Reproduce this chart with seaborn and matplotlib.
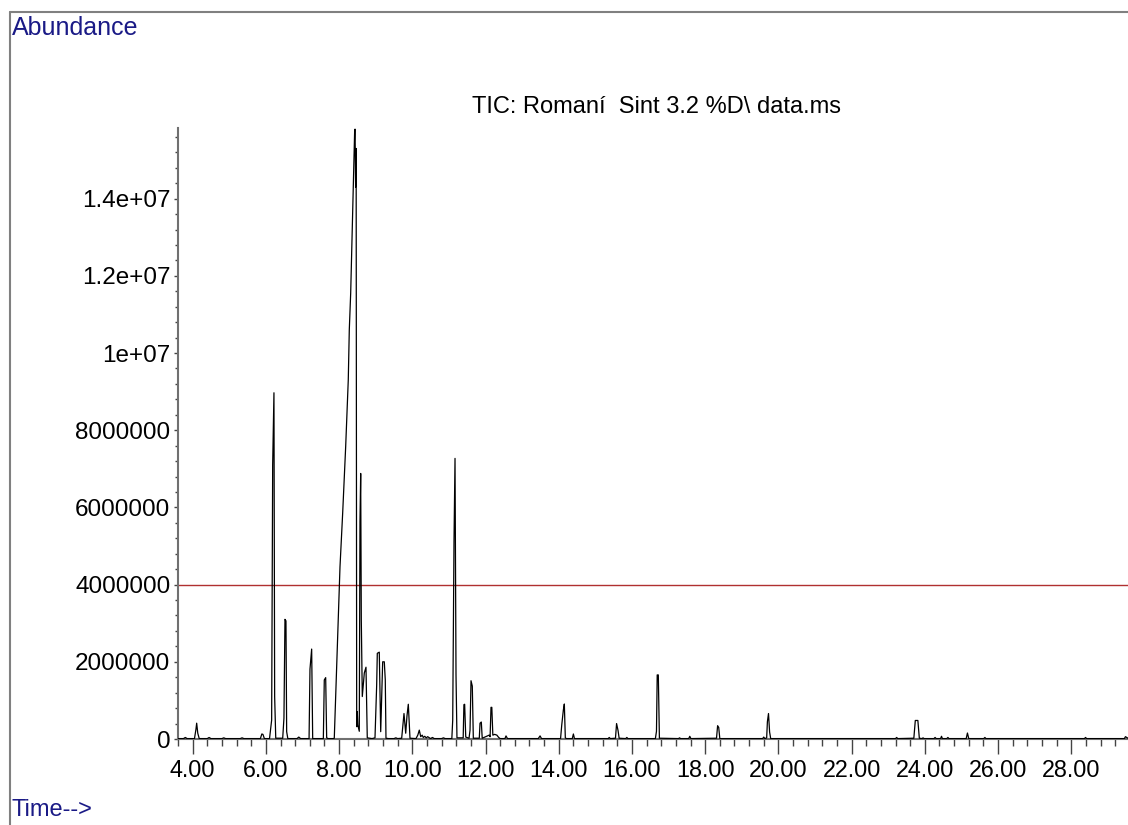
import numpy as np
import pandas as pd
import matplotlib
matplotlib.use("Agg")
import matplotlib.pyplot as plt
from matplotlib.ticker import MultipleLocator, FuncFormatter
from matplotlib.lines import Line2D
import seaborn as sns

# Total ion chromatogram, read as (retention time [min], abundance) points.
# Early region: 3.6 - 7.8 min
t_early = [3.60, 3.75, 3.80, 3.85, 4.05, 4.09, 4.11, 4.14, 4.18, 4.40, 4.45, 4.50,
           4.80, 4.85, 4.90, 5.30, 5.35, 5.40, 5.85, 5.89, 5.92, 5.96, 6.10, 6.158,
           6.186, 6.221, 6.240, 6.27, 6.46, 6.494, 6.522, 6.549, 6.568, 6.60, 6.85,
           6.90, 6.95, 7.18, 7.205, 7.251, 7.279, 7.31, 7.57, 7.596, 7.634, 7.661, 7.70]
a_early = [1e4, 1e4, 4e4, 1e4, 1e4, 2.5e5, 4.1e5, 1.5e5, 1e4, 1e4, 4e4, 1e4,
           1e4, 3e4, 1e4, 1e4, 3e4, 1e4, 1e4, 1.3e5, 1.2e5, 1e4, 1e4, 4.9e5,
           7.1e6, 8.97e6, 1.1e6, 2e4, 2e4, 5.4e5, 3.10e6, 3.06e6, 1.9e5, 1e4, 1e4,
           5e4, 1e4, 1e4, 1.81e6, 2.33e6, 1e4, 1e4, 1e4, 1.53e6, 1.59e6, 3e4, 1e4]

# Main cluster: 7.8 - 9.4 min
t_main = [7.84, 7.869, 7.951, 8.025, 8.098, 8.180, 8.251, 8.279, 8.317, 8.352,
          8.388, 8.426, 8.436, 8.452, 8.466, 8.481, 8.497, 8.512, 8.552, 8.571,
          8.590, 8.607, 8.634, 8.689, 8.735, 8.770, 8.90, 8.981, 9.027, 9.044,
          9.098, 9.137, 9.191, 9.235, 9.262, 9.281, 9.35]
a_main = [1e4, 2e4, 2.39e6, 4.46e6, 5.85e6, 7.57e6, 9.30e6, 1.060e7, 1.155e7, 1.293e7,
          1.440e7, 1.578e7, 1.580e7, 1.43e7, 1.53e7, 3.2e5, 7.1e5, 3.6e5, 2.0e5, 5.63e6,
          6.88e6, 3.08e6, 1.1e6, 1.71e6, 1.86e6, 3e4, 1e4, 3e4, 1.40e6, 2.22e6,
          2.25e6, 1.9e5, 2.0e6, 2.0e6, 1.53e6, 2e4, 1e4]

# Middle region: 9.4 - 14.6 min
t_mid = [9.50, 9.55, 9.60, 9.71, 9.746, 9.773, 9.820, 9.855, 9.891, 9.937, 10.10,
         10.15, 10.191, 10.23, 10.27, 10.30, 10.34, 10.38, 10.42, 10.50, 10.55, 10.60,
         10.80, 10.85, 10.90, 11.08, 11.104, 11.139, 11.167, 11.194, 11.22, 11.39,
         11.41, 11.43, 11.46, 11.55, 11.577, 11.604, 11.639, 11.667, 11.83, 11.850,
         11.885, 11.91, 12.10, 12.125, 12.150, 12.172, 12.20, 12.25, 12.31, 12.36,
         12.40, 12.53, 12.56, 12.60, 13.44, 13.49, 13.53, 14.05, 14.082, 14.126,
         14.153, 14.180, 14.21, 14.37, 14.40, 14.43]
a_mid = [1e4, 3e4, 1e4, 2e4, 4.0e5, 6.6e5, 1.5e5, 6.0e5, 9.0e5, 2e4, 1e4,
         1.0e5, 2.3e5, 6e4, 1.0e5, 4e4, 7e4, 3e4, 6e4, 1e4, 4e4, 1e4,
         1e4, 3e4, 1e4, 1e4, 4.9e5, 5.1e6, 7.27e6, 1.66e6, 3e4, 3e4,
         8.9e5, 9.0e5, 5e4, 2e4, 2.3e5, 1.51e6, 1.37e6, 2e4, 2e4, 4.1e5,
         4.4e5, 2e4, 1.0e5, 6e4, 8.2e5, 8.2e5, 1.0e5, 1.2e5, 1.0e5, 4e4,
         1e4, 1e4, 8e4, 1e4, 1e4, 8e4, 1e4, 1e4, 3.6e5, 7.5e5,
         9.07e5, 3e4, 1e4, 1e4, 1.3e5, 1e4]

# Late region: 14.6 - 29.55 min
t_late = [14.90, 15.35, 15.38, 15.41, 15.55, 15.58, 15.62, 15.65, 15.83, 15.86, 15.89,
          16.64, 16.67, 16.69, 16.72, 16.75, 17.27, 17.30, 17.33, 17.55, 17.58, 17.61,
          18.31, 18.34, 18.37, 18.40, 19.57, 19.60, 19.63, 19.68, 19.70, 19.73, 19.76,
          19.79, 23.20, 23.23, 23.26, 23.70, 23.74, 23.81, 23.85, 23.93, 23.95, 23.98,
          24.25, 24.28, 24.31, 24.43, 24.456, 24.48, 24.60, 24.63, 24.66, 25.13, 25.164,
          25.20, 25.61, 25.64, 25.67, 28.36, 28.39, 28.42, 29.45, 29.48, 29.55]
a_late = [1e4, 1e4, 4e4, 1e4, 2e4, 4.0e5, 2.2e5, 2e4, 1e4, 4e4, 1e4,
          1e4, 2.0e5, 1.66e6, 1.66e6, 2e4, 1e4, 3e4, 1e4, 1e4, 7e4, 1e4,
          2e4, 3.45e5, 3.0e5, 1e4, 1e4, 5e4, 1e4, 3e4, 4.5e5, 6.6e5, 1.8e5,
          1e4, 1e4, 4e4, 1e4, 2e4, 4.8e5, 4.8e5, 2e4, 1e4, 3e4, 1e4,
          1e4, 4e4, 1e4, 1e4, 7e4, 1e4, 1e4, 4e4, 1e4, 1e4, 1.55e5,
          1e4, 1e4, 4e4, 1e4, 1e4, 4e4, 1e4, 1e4, 6e4, 2e4]

y_ticks = [0, 2000000, 4000000, 6000000, 8000000, 1e7, 1.2e7, 1.4e7]
x_ticks = [4, 6, 8, 10, 12, 14, 16, 18, 20, 22, 24, 26, 28]
marker_level = 4000000
title_text = "TIC: Romaní  Sint 3.2 %D\\ data.ms"

sns.set_style("ticks")
plt.rcParams["font.family"] = ["Liberation Sans", "DejaVu Sans"]

W, H = 1128, 825
fig = plt.figure(figsize=(W / 100, H / 100), dpi=100)
ax = fig.add_axes([178 / W, 1 - 739 / H, (W - 178) / W, (739 - 128) / H])

df = pd.DataFrame({
    "time": np.concatenate([t_early, t_main, t_mid, t_late]),
    "abundance": np.concatenate([a_early, a_main, a_mid, a_late]),
})
sns.lineplot(data=df, x="time", y="abundance", ax=ax, estimator=None, sort=False,
             color="black", lw=0.9, zorder=3)
ax.axhline(marker_level, color="#b03030", lw=1.0, zorder=2)

ax.set_xlim(3.6, 29.55)
ax.set_ylim(0, 1.583e7)
ax.set_xlabel("")
ax.set_ylabel("")

ax.set_xticks(x_ticks)
ax.xaxis.set_minor_locator(MultipleLocator(0.4))
ax.xaxis.set_major_formatter(FuncFormatter(lambda v, p: f"{v:.2f}"))
ax.set_yticks(y_ticks)
ax.yaxis.set_minor_locator(MultipleLocator(400000))
ax.yaxis.set_major_formatter(
    FuncFormatter(lambda v, p: f"{int(round(v))}" if v < 9.99e6 else f"{v:g}"))

tick_col = "#444444"
ax.tick_params(axis="x", which="major", direction="out", length=10.6, width=1.0,
               pad=3.5, labelsize=16.8, color=tick_col, labelcolor="black")
ax.tick_params(axis="x", which="minor", direction="out", length=4.8, width=1.0,
               color=tick_col)
ax.tick_params(axis="y", which="major", direction="out", length=3, width=1.0,
               pad=2.5, labelsize=17.5, color=tick_col, labelcolor="black")
ax.tick_params(axis="y", which="minor", direction="out", length=2, width=1.0,
               color=tick_col)

for side in ("top", "right"):
    ax.spines[side].set_visible(False)
for side in ("left", "bottom"):
    ax.spines[side].set_color("#707070")
    ax.spines[side].set_linewidth(1.5)

# Outer report frame
frame_col = "#808080"
fig.add_artist(Line2D([10 / W, 10 / W], [0, 1 - 12 / H], transform=fig.transFigure,
                      color=frame_col, lw=1.5))
fig.add_artist(Line2D([10 / W, 1], [1 - 12 / H, 1 - 12 / H], transform=fig.transFigure,
                      color=frame_col, lw=1.5))

navy = "#1a1a86"
fig.text(12 / W, 1 - 35 / H, "Abundance", ha="left", va="baseline",
         fontsize=18, color=navy)
fig.text(12 / W, 1 - 816 / H, "Time-->", ha="left", va="baseline",
         fontsize=17, color=navy)
fig.text(657 / W, 1 - 112.7 / H, title_text, ha="center", va="baseline",
         fontsize=17, color="black")

fig.savefig("out.png", dpi=100, facecolor="white")
